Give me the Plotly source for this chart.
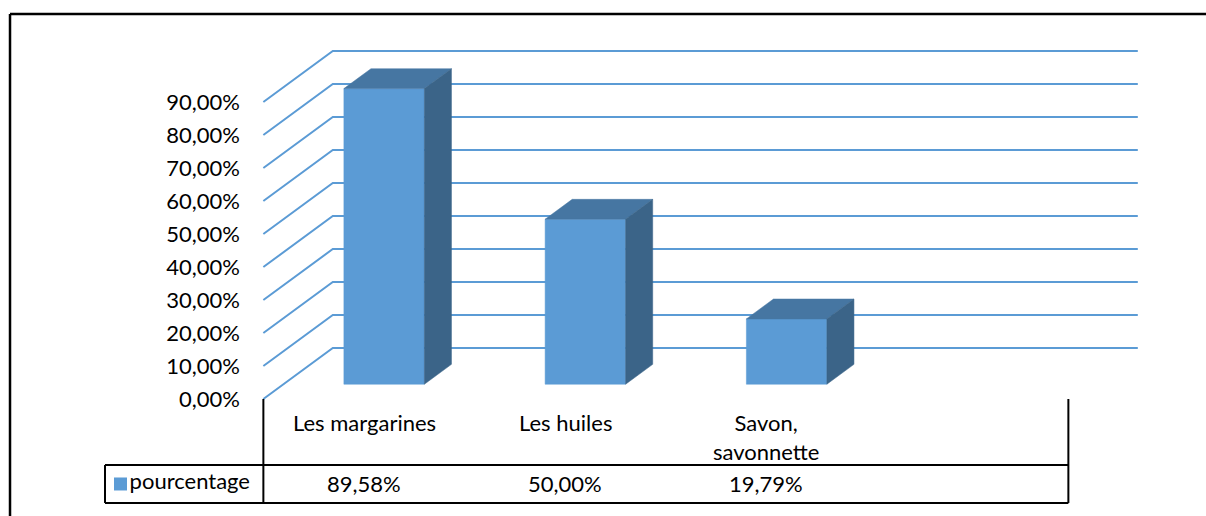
import plotly.graph_objects as go

# data
categories = ["Les margarines", "Les huiles", "Savon,<br>savonnette", ""]
values = [0.8958, 0.5000, 0.1979]
value_labels = ["89,58%", "50,00%", "19,79%", ""]
tick_values = [0.0, 0.1, 0.2, 0.3, 0.4, 0.5, 0.6, 0.7, 0.8, 0.9]
series_name = "pourcentage"

FONT = "Lato"
FS = 22
GRID = "#5B9BD5"
FRONT = "#5B9BD5"
TOP = "#4676A2"
SIDE = "#3B6488"

# oblique projection used to fake the excel 3d look
DX, DY = 0.345, 0.1545     # full depth of the chart, in x / y units
D0, D1 = 0.29, 0.68        # front / back of the columns, fraction of depth
BAR_W = 0.4

fig = go.Figure()

# back wall and side wall gridlines
for v in tick_values:
    fig.add_trace(go.Scatter(
        x=[-0.5, -0.5 + DX, len(categories) - 0.5 + DX],
        y=[v, v + DY, v + DY],
        mode="lines", line=dict(color=GRID, width=2),
        hoverinfo="skip", showlegend=False,
    ))

# 3d columns
ddx, ddy = (D1 - D0) * DX, (D1 - D0) * DY
for i, v in enumerate(values):
    xl = i - BAR_W / 2 + D0 * DX
    xr = xl + BAR_W
    yb = D0 * DY
    yt = v + D0 * DY
    faces = [
        ([xl, xr, xr, xl, xl], [yb, yb, yt, yt, yb], FRONT),
        ([xl, xr, xr + ddx, xl + ddx, xl], [yt, yt, yt + ddy, yt + ddy, yt], TOP),
        ([xr, xr + ddx, xr + ddx, xr, xr], [yb, yb + ddy, yt + ddy, yt, yb], SIDE),
    ]
    for fx, fy, col in faces:
        fig.add_trace(go.Scatter(
            x=fx, y=fy, mode="lines", fill="toself", fillcolor=col,
            line=dict(color=col, width=0.5),
            hoverinfo="skip", showlegend=False,
        ))

# data table
row1, row2 = -0.2, -0.315
left = -1.287
right = len(categories) - 0.5
for i, c in enumerate(categories):
    fig.add_annotation(x=i, y=-0.025, text=c, showarrow=False, yanchor="top",
                       font=dict(family=FONT, size=FS, color="black"))
    fig.add_annotation(x=i, y=(row1 + row2) / 2, text=value_labels[i], showarrow=False,
                       font=dict(family=FONT, size=FS, color="black"))

fig.add_trace(go.Scatter(
    x=[-1.21], y=[(row1 + row2) / 2], mode="markers+text",
    marker=dict(symbol="square", size=13, color=FRONT),
    text=[series_name], textposition="middle right",
    textfont=dict(family=FONT, size=FS, color="black"),
    cliponaxis=False, hoverinfo="skip", showlegend=False,
))

line = dict(color="black", width=2)
fig.add_shape(type="line", x0=-0.5, x1=-0.5, y0=0, y1=row2, line=line)
fig.add_shape(type="line", x0=right, x1=right, y0=0, y1=row2, line=line)
fig.add_shape(type="line", x0=left, x1=right, y0=row1, y1=row1, line=line)
fig.add_shape(type="line", x0=left, x1=right, y0=row2, y1=row2, line=line)
fig.add_shape(type="line", x0=left, x1=left, y0=row1, y1=row2, line=line)

# chart frame (only left and top edges fall inside the picture)
frame = dict(color="black", width=2.5)
fig.add_shape(type="line", xref="paper", yref="paper",
              x0=0.0083, x1=0.0083, y0=0, y1=0.9729, line=frame)
fig.add_shape(type="line", xref="paper", yref="paper",
              x0=0.0083, x1=1, y0=0.9729, y1=0.9729, line=frame)

fig.update_layout(
    width=1206, height=516,
    margin=dict(t=0, l=0, r=0, b=0),
    plot_bgcolor="white", paper_bgcolor="white",
    separators=", ",
    showlegend=False,
    xaxis=dict(range=[-1.8087, 4.1839], visible=False, fixedrange=True),
    yaxis=dict(
        range=[-0.3545, 1.2091],
        tickvals=tick_values, tickformat=".2%",
        showgrid=False, zeroline=False, showline=False, ticks="",
        anchor="free", position=240 / 1206,
        tickfont=dict(family=FONT, size=FS, color="black"),
        fixedrange=True,
    ),
)

fig.write_html("out.html", config={"displayModeBar": False},
               post_script="document.body.style.margin='0';")
